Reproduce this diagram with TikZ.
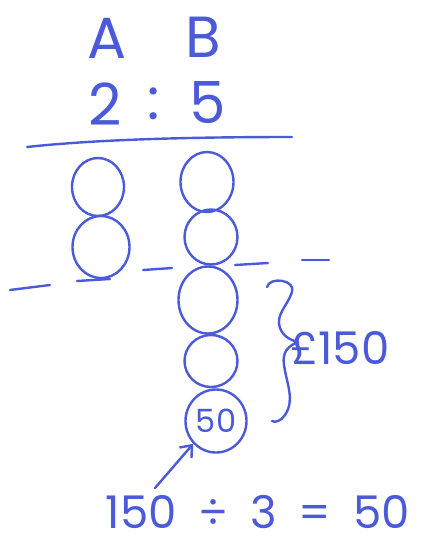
\documentclass[tikz,border=0pt]{standalone}
\usepackage{fontspec}
\setmainfont{Poppins}
\usepackage{tikz}
\usetikzlibrary{shapes.geometric,arrows.meta,positioning}
\definecolor{PenBlue}{HTML}{4B5AD8}
\tikzset{
  ink/.style={draw=PenBlue,line width=2.4pt,line cap=round,line join=round},
  bead/.style={ellipse,ink,inner sep=0pt,text=PenBlue,font=\fontsize{32}{32}\selectfont},
  bigtext/.style={text=PenBlue,inner sep=0pt,font=\fontsize{58}{58}\selectfont},
  midtext/.style={text=PenBlue,inner sep=0pt,text height=33pt,text depth=0pt,font=\fontsize{45}{45}\selectfont},
  arrow/.style={ink,-{Straight Barb[length=10pt,width=16pt]}},
}
\begin{document}
\begin{tikzpicture}[x=1pt,y=-1pt]
  \useasboundingbox (0,0) rectangle (424,542);
  \node[bigtext] (lblA) at (107,38) {A};
  \node[bigtext] (lblB) at (203,37) {B};
  \node[bigtext] (two) at (105,104) {2};
  \node[bigtext] (colon) at (154,104) {:};
  \node[bigtext] (five) at (208,103) {5};

  \draw[ink] (27,147) .. controls (100,139) and (200,137) .. (292,137);

  \node[bead, minimum width=52pt, minimum height=58pt] (a1) at (98,187) {};
  \node[bead, minimum width=57pt, minimum height=62pt] (a2) at (101,247) {};
  \node[bead, minimum width=53pt, minimum height=60pt] (b1) at (207,182) {};
  \node[bead, minimum width=53pt, minimum height=55pt] (b2) at (211,237) {};
  \node[bead, minimum width=59pt, minimum height=67pt] (b3) at (208,300) {};
  \node[bead, minimum width=53pt, minimum height=52pt] (b4) at (211,361) {};
  \node[bead, minimum width=61pt, minimum height=63pt] (b5) at (216,421) {50};

  \draw[ink] (10,290) -- (50,285);
  \draw[ink] (77,281) -- (110,279);
  \draw[ink] (143,270) -- (172,268);
  \draw[ink] (235,265) -- (268,263);
  \draw[ink] (302,260) -- (329,260);

  \draw[ink] (267,287) .. controls (270,276) and (296,280) .. (292,292)
    .. controls (288,305) and (275,315) .. (280,328)
    .. controls (283,336) and (290,340) .. (298,342)
    .. controls (288,346) and (282,352) .. (284,365)
    .. controls (287,385) and (295,400) .. (285,415)
    .. controls (281,421) and (275,423) .. (272,421);
  \node[midtext] (total) at (340,348) {£150};

  \node[midtext] (sum) at (258,512) {150\hspace{22pt}÷\hspace{22pt}3\hspace{22pt}=\hspace{22pt}50};
  \coordinate (tail) at (155,488);
  \draw[arrow] (tail) -- (b5.225);
\end{tikzpicture}
\end{document}
